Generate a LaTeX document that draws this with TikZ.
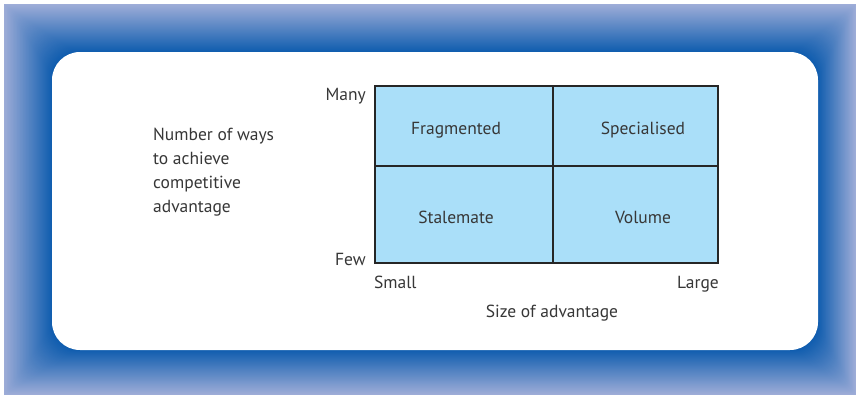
\documentclass[tikz,border=0pt]{standalone}
\usepackage{fontspec}
\setmainfont{PT Sans}
\usepackage{xcolor}
\usetikzlibrary{positioning}
\definecolor{framelight}{RGB}{158,173,216}
\definecolor{framedark}{RGB}{14,92,174}
\definecolor{cellc}{RGB}{170,223,249}
\definecolor{textc}{RGB}{55,55,55}
\tikzset{
  cell/.style     = {draw=black!85, line width=1.4pt, fill=cellc, inner sep=0pt},
  celltext/.style = {font=\fontsize{17.5}{24}\selectfont, text=textc, inner sep=0pt},
  lbl/.style      = {font=\fontsize{17.5}{24}\selectfont, text=textc, inner sep=0pt},
}

\begin{document}
\begin{tikzpicture}[x=1pt, y=-1pt]
\useasboundingbox (0,0) rectangle (856,397);

% frame: light edge fading into dark blue
\foreach \i in {0,...,48}{
  \pgfmathsetmacro\t{\i/48}
  \pgfmathsetmacro\pc{100*\t}
  \pgfmathsetmacro\rad{28*\t}
  \fill[framedark!\pc!framelight, rounded corners=\rad pt]
    (4+48*\t, 4+48*\t) rectangle (856-38*\t, 395-45*\t);
}
\fill[white, rounded corners=28pt] (52,52) rectangle (818,350);

% the four cells
\node[cell, minimum width=178pt, minimum height=80pt] (frag) at (464,126) {};
\node[cell, minimum width=165pt, minimum height=80pt] (spec) at (635.5,126) {};
\node[cell, minimum width=178pt, minimum height=97pt] (stal) at (464,214.5) {};
\node[cell, minimum width=165pt, minimum height=97pt] (vol) at (635.5,214.5) {};

\node[celltext, anchor=base] (fragt) at (456,134) {Fragmented};
\node[celltext, anchor=base] (spect) at (643,134) {Specialised};
\node[celltext, anchor=base] (stalt) at (456,223) {Stalemate};
\node[celltext, anchor=base] (volt) at (643,223) {Volume};

% axes
\node[lbl, anchor=base east] (many) at (366,100) {Many};
\node[lbl, anchor=base east] (few) at (366,265) {Few};
\node[lbl, anchor=base west] (small) at (374,288) {Small};
\node[lbl, anchor=base east] (large) at (719,288) {Large};
\node[lbl, anchor=base] (size) at (552,317) {Size of advantage};
\node[lbl, anchor=north west, align=left] (ways) at (153,128)
  {Number of ways\\to achieve\\competitive\\advantage};

\end{tikzpicture}
\end{document}
